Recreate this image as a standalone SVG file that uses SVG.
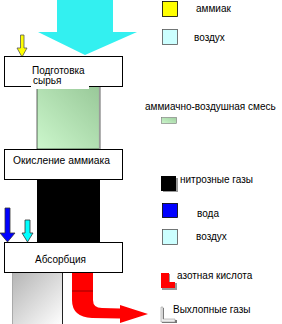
<svg xmlns="http://www.w3.org/2000/svg" width="282" height="324" viewBox="0 0 282 324">
<defs>
<linearGradient id="gGreen" x1="0" y1="1" x2="1" y2="0">
<stop offset="0" stop-color="#ccf7cc"/>
<stop offset="1" stop-color="#98c898"/>
</linearGradient>
<linearGradient id="gGray" x1="0" y1="0" x2="1" y2="1">
<stop offset="0" stop-color="#b4b4b4"/>
<stop offset="1" stop-color="#ffffff"/>
</linearGradient>
<linearGradient id="gGreenS" x1="0" y1="1" x2="1" y2="0">
<stop offset="0" stop-color="#ccf7cc"/>
<stop offset="1" stop-color="#a0d0a0"/>
</linearGradient>
</defs>
<style>
.box{fill:#fff;stroke:#000;stroke-width:1}
.t{font-family:"Liberation Sans",Arial,sans-serif;font-size:10px;fill:#000}
.sw{stroke:#000;stroke-width:0.8}
</style>
<g id="streams">
<rect id="col-green" x="37" y="86" width="63" height="63" fill="url(#gGreen)" stroke="#000" stroke-width="0.6"/>
<line x1="99.5" y1="86" x2="99.5" y2="149" stroke="#999" stroke-width="1.2"/>
<rect id="col-black" x="37" y="179" width="63" height="63" fill="#000"/>
<rect id="col-gray" x="12" y="272" width="51" height="53" fill="url(#gGray)"/>
<line x1="12.5" y1="272" x2="12.5" y2="324" stroke="#aaa" stroke-width="1"/>
<line x1="62.5" y1="272" x2="62.5" y2="324" stroke="#222" stroke-width="1"/>
</g>
<g id="connectors">
<polygon id="arrow-air-big" points="57,0 113,0 113,32 137,32 85,55 38,32 57,32" fill="#33f0f0"/>
<polygon id="arrow-ammonia" points="20.5,35 24,35 24,48 27,48 22,57 17,48 20.5,48" fill="#ffff00" stroke="#555" stroke-width="0.8"/>
<polygon id="arrow-water" points="5,208 10,208 10,233 15,233 7.5,242 0,233 5,233" fill="#0000ff" stroke="#333" stroke-width="0.8"/>
<polygon id="arrow-air-small" points="25,220 30,220 30,233 33,233 27.5,242 22,233 25,233" fill="#00ffff" stroke="#333" stroke-width="0.8"/>
<path id="arrow-acid" d="M72,272 L93,272 L93,300 Q93,308 102,308 L120,308.5 L120,305 L148,314 L120,323 L120,318.5 L92,318 Q72,317 72,300 Z" fill="#ff0000"/>
<line x1="72" y1="291" x2="93" y2="291" stroke="#900" stroke-width="1"/>
</g>
<g id="node-prep">
<rect class="box" x="4.5" y="56.5" width="118" height="30"/>
<rect x="31" y="78" width="58" height="11" fill="#fff"/>
<text class="t" x="32" y="74">Подготовка</text>
<text class="t" x="33" y="84">сырья</text>
</g>
<g id="node-oxid">
<rect class="box" x="4.5" y="149.5" width="118" height="30"/>
<text class="t" x="13" y="164" textLength="97" lengthAdjust="spacingAndGlyphs">Окисление аммиака</text>
</g>
<g id="node-absorb">
<rect class="box" x="4.5" y="242.5" width="118" height="30"/>
<text class="t" x="35" y="263">Абсорбция</text>
</g>
<g id="legend">
<rect x="162.5" y="1.5" width="15" height="15" fill="#ffff00" class="sw"/>
<text class="t" x="196" y="12">аммиак</text>
<rect x="162.5" y="29.5" width="15" height="15" fill="#ccffff" stroke="#555" stroke-width="0.8"/>
<text class="t" x="194" y="41">воздух</text>
<text class="t" x="145" y="110">аммиачно-воздушная смесь</text>
<rect x="161.5" y="117.5" width="15" height="6" fill="url(#gGreenS)" stroke="#777" stroke-width="0.6"/>
<rect x="163" y="178" width="15" height="14" fill="#999"/>
<rect x="161" y="176" width="15" height="15" fill="#000"/>
<text class="t" x="180" y="183">нитрозные газы</text>
<rect x="162.5" y="203.5" width="15" height="14" fill="#0000ff" class="sw"/>
<text class="t" x="197" y="217">вода</text>
<rect x="162.5" y="229.5" width="15" height="15" fill="#ccffff" stroke="#555" stroke-width="0.8"/>
<text class="t" x="196" y="240">воздух</text>
<polygon points="162,274 170,274 170,283 177,283 177,290 162,290" fill="#999"/>
<polygon points="161,273 169,273 169,282 175,282 175,288 161,288" fill="#ff0000"/>
<text class="t" x="177" y="279">азотная кислота</text>
<polygon points="162,308 164,308 164,320 177,320 177,323 162,323" fill="#777"/>
<polygon points="161,307 163,307 163,319 175,319 175,322 161,322" fill="#eee" stroke="#888" stroke-width="0.5"/>
<text class="t" x="173" y="313">Выхлопные газы</text>
</g>
</svg>
